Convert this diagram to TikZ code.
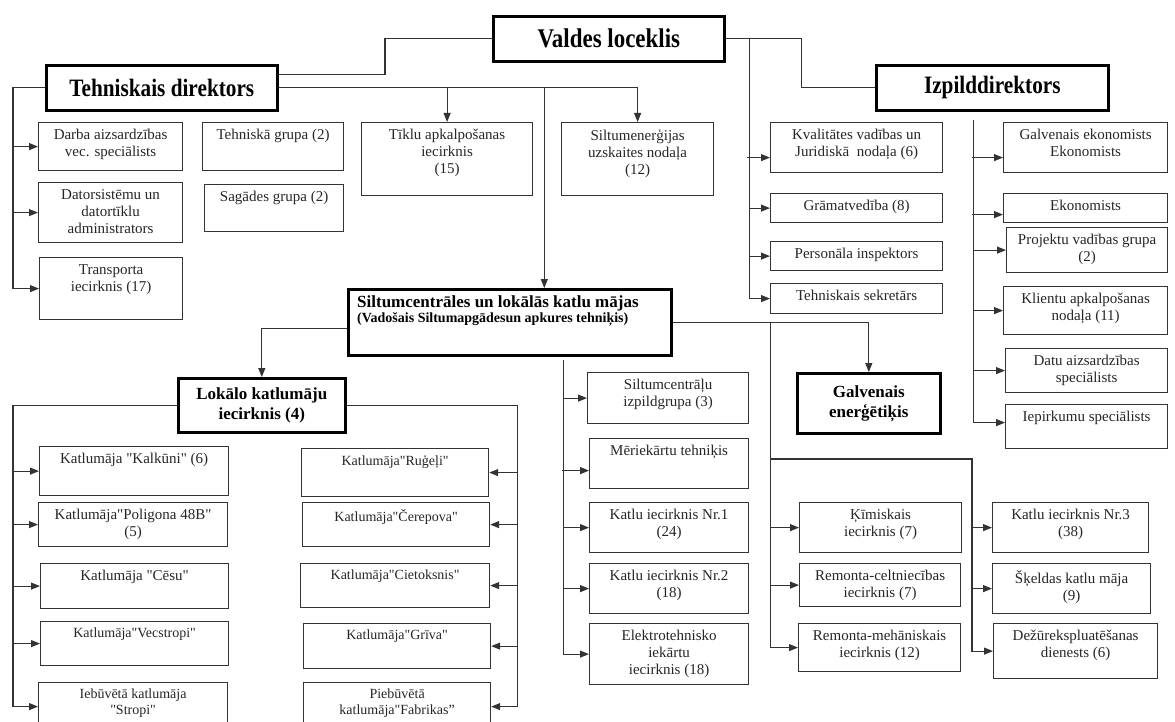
\documentclass[tikz,border=0pt]{standalone}
\usepackage{fontspec}
\setmainfont{Liberation Serif}
\newfontfamily\boxfont{Liberation Serif}
\newfontfamily\headfont[FakeStretch=0.85]{Liberation Serif}
\usetikzlibrary{arrows.meta}

\begin{document}
\begin{tikzpicture}[x=1pt,y=-1pt,
  >={Triangle[length=9pt,width=7pt]},
  box/.style={draw=black!80,line width=1.2pt,anchor=north west,inner sep=0pt},
  hbox/.style={draw=black,line width=2.6pt,anchor=north west,inner sep=0pt,align=center},
  lbl/.style={anchor=north,align=center,inner sep=7pt,text=black!85,font=\boxfont\fontsize{15}{17}\selectfont},
  slbl/.style={lbl,font=\boxfont\fontsize{14}{16}\selectfont},
  big/.style={font=\headfont\bfseries\fontsize{25}{29}\selectfont},
  mid/.style={font=\boxfont\bfseries\fontsize{17}{20}\selectfont}]
  \useasboundingbox (0,0) rectangle (1175,722);
  \fill[white] (0,0) rectangle (1175,722);

  % top level
  \node [hbox,big,font=\headfont\bfseries\fontsize{27}{31}\selectfont,
         minimum width=231pt,minimum height=45pt](valdes) at (492,15) {Valdes loceklis};
  \node [hbox,big,minimum width=231pt,minimum height=45pt](tehn) at (45,64) {Tehniskais direktors};
  \node [hbox,big,minimum width=232pt,minimum height=45pt](izpild) at (875,64) {Izpilddirektors};

  % under Tehniskais direktors
  \node [box,minimum width=144pt,minimum height=48pt,label={[lbl]north:{Darba aizsardzības\\vec. speciālists}}](darba) at (38,122) {};
  \node [box,minimum width=144pt,minimum height=60pt,label={[lbl]north:{Datorsistēmu un\\datortīklu\\administrators}}](dators) at (38,182) {};
  \node [box,minimum width=143pt,minimum height=62pt,label={[lbl]north:{Transporta\\iecirknis (17)}}](transp) at (39,257) {};
  \node [box,minimum width=141pt,minimum height=48pt,label={[lbl]north:{Tehniskā grupa (2)}}](tgrupa) at (202,122) {};
  \node [box,minimum width=139pt,minimum height=47pt,label={[lbl]north:{Sagādes grupa (2)}}](sagad) at (204,184) {};
  \node [box,minimum width=171pt,minimum height=73pt,label={[lbl]north:{Tīklu apkalpošanas\\iecirknis\\(15)}}](tikl) at (361,122) {};
  \node [box,minimum width=152pt,minimum height=73pt,label={[lbl]north:{Siltumenerģijas\\uzskaites nodaļa\\(12)}}](siltu) at (561,122) {};

  % under Valdes loceklis
  \node [box,minimum width=172pt,minimum height=50pt,label={[lbl]north:{Kvalitātes vadības un\\Juridiskā\ \ nodaļa (6)}}](kval) at (770,122) {};
  \node [box,minimum width=172pt,minimum height=29pt,label={[lbl]north:{Grāmatvedība (8)}}](gram) at (770,193) {};
  \node [box,minimum width=172pt,minimum height=29pt,label={[lbl]north:{Personāla inspektors}}](pers) at (770,241) {};
  \node [box,minimum width=172pt,minimum height=30pt,label={[lbl]north:{Tehniskais sekretārs}}](sekr) at (770,283) {};

  % under Izpilddirektors
  \node [box,minimum width=164pt,minimum height=50pt,label={[lbl]north:{Galvenais ekonomists\\Ekonomists}}](gek) at (1003,122) {};
  \node [box,minimum width=164pt,minimum height=29pt,label={[lbl]north:{Ekonomists}}](ekon) at (1003,193) {};
  \node [box,minimum width=161pt,minimum height=45pt,label={[lbl]north:{Projektu vadības grupa\\(2)}}](proj) at (1006,227) {};
  \node [box,minimum width=164pt,minimum height=48pt,label={[lbl]north:{Klientu apkalpošanas\\nodaļa (11)}}](klient) at (1003,286) {};
  \node [box,minimum width=162pt,minimum height=44pt,label={[lbl]north:{Datu aizsardzības\\speciālists}}](datu) at (1005,348) {};
  \node [box,minimum width=162pt,minimum height=44pt,label={[lbl]north:{Iepirkumu speciālists}}](iep) at (1005,404) {};

  % Siltumcentrales
  \node [hbox,minimum width=323pt,minimum height=66pt,
         label={[anchor=north west,align=left,inner xsep=10pt,inner ysep=8pt,font=\boxfont]north west:{%
           {\bfseries\fontsize{17}{19}\selectfont Siltumcentrāles un lokālās katlu mājas}\\
           {\bfseries\fontsize{14}{16}\selectfont (Vadošais Siltumapgādesun apkures tehniķis)}}}](siltc) at (347,288) {};
  \node [hbox,mid,minimum width=167pt,minimum height=54pt](lokalo) at (177,377) {Lokālo katlumāju\\iecirknis (4)};
  \node [hbox,mid,minimum width=143pt,minimum height=60pt](galven) at (796,372) {Galvenais\\enerģētiķis};

  % middle column
  \node [box,minimum width=161pt,minimum height=51pt,label={[lbl]north:{Siltumcentrāļu\\izpildgrupa (3)}}](izp) at (587,372) {};
  \node [box,minimum width=159pt,minimum height=50pt,label={[lbl]north:{Mēriekārtu tehniķis}}](mer) at (589,438) {};
  \node [box,minimum width=159pt,minimum height=50pt,label={[lbl]north:{Katlu iecirknis Nr.1\\(24)}}](k1) at (589,502) {};
  \node [box,minimum width=159pt,minimum height=50pt,label={[lbl]north:{Katlu iecirknis Nr.2\\(18)}}](k2) at (589,563) {};
  \node [box,minimum width=159pt,minimum height=61pt,label={[lbl]north:{Elektrotehnisko\\iekārtu\\iecirknis (18)}}](elek) at (589,623) {};

  \node [box,minimum width=162pt,minimum height=50pt,label={[lbl]north:{Ķīmiskais\\iecirknis (7)}}](kim) at (799,502) {};
  \node [box,minimum width=161pt,minimum height=43pt,label={[lbl]north:{Remonta-celtniecības\\iecirknis (7)}}](remc) at (799,563) {};
  \node [box,minimum width=162pt,minimum height=48pt,label={[lbl]north:{Remonta-mehāniskais\\iecirknis (12)}}](remm) at (798,623) {};
  \node [box,minimum width=156pt,minimum height=50pt,label={[lbl]north:{Katlu iecirknis Nr.3\\(38)}}](k3) at (992,502) {};
  \node [box,minimum width=158pt,minimum height=50pt,label={[lbl]north:{Šķeldas katlu māja\\(9)}}](skeld) at (992,563) {};
  \node [box,minimum width=164pt,minimum height=55pt,label={[lbl]north:{Dežūrekspluatēšanas\\dienests (6)}}](dez) at (993,623) {};

  % local boiler houses
  \node [box,minimum width=189pt,minimum height=49pt,label={[lbl]north:{Katlumāja "Kalkūni" (6)}}](kalk) at (39,446) {};
  \node [box,minimum width=189pt,minimum height=44pt,label={[lbl]north:{Katlumāja"Poligona 48B"\\(5)}}](polig) at (38,502) {};
  \node [box,minimum width=188pt,minimum height=45pt,label={[lbl]north:{Katlumāja "Cēsu"}}](cesu) at (40,563) {};
  \node [box,minimum width=188pt,minimum height=44pt,label={[slbl]north:{Katlumāja"Vecstropi"}}](vecs) at (40,621) {};
  \node [box,minimum width=189pt,minimum height=48pt,label={[slbl]north:{Iebūvētā katlumāja\\"Stropi"}}](iebuv) at (38,682) {};
  \node [box,minimum width=187pt,minimum height=48pt,label={[slbl]north:{Katlumāja"Ruģeļi"}}](rug) at (301,448) {};
  \node [box,minimum width=187pt,minimum height=44pt,label={[slbl]north:{Katlumāja"Čerepova"}}](cere) at (302,502) {};
  \node [box,minimum width=189pt,minimum height=44pt,label={[slbl]north:{Katlumāja"Cietoksnis"}}](ciet) at (300,563) {};
  \node [box,minimum width=187pt,minimum height=45pt,label={[slbl]north:{Katlumāja"Grīva"}}](griva) at (303,623) {};
  \node [box,minimum width=187pt,minimum height=48pt,label={[slbl]north:{Piebūvētā\\katlumāja"Fabrikas”}}](pieb) at (303,682) {};

  % branch points
  \coordinate (tl) at ([xshift=-32pt]tehn.west);
  \coordinate (sd) at ([xshift=34.5pt]siltc.north);
  \coordinate (vr) at ([xshift=24pt]valdes.east);
  \coordinate (ir) at ([xshift=-19pt,yshift=-8pt]izpild.south);
  \coordinate (kr) at ([xshift=98pt]siltc.east);
  \coordinate (kb) at (972,459);
  \coordinate (mr) at ([xshift=53.5pt,yshift=-3pt]siltc.south);
  \coordinate (ll) at ([xshift=-164pt]lokalo.west);
  \coordinate (lr) at ([xshift=171pt]lokalo.east);

  \begin{scope}[line width=1.1pt,black!80]
  \draw (valdes.west) -- ++(-107,0) |- ([yshift=13.5pt]tehn.east);
  \draw (valdes.east) -- ++(76,0) |- (izpild.west);

  \draw[->] (tehn.west) -- (tl) |- (transp.west);
  \draw[->] (tl |- darba.west) -- (darba.west);
  \draw[->] (tl |- dators.west) -- (dators.west);
  \draw[->] (tehn.east) -| (siltu.north);
  \draw[->] (tikl.north |- tehn.east) -- (tikl.north);
  \draw[->] (sd |- tehn.east) -- (sd);

  \draw[->] (vr) |- (sekr.west);
  \draw[<-] ([yshift=-10pt]kval.west) -- ++(-23,0);
  \draw[->] (vr |- gram.west) -- (gram.west);
  \draw[->] (vr |- pers.west) -- (pers.west);

  \draw[->] (ir) |- ([yshift=4pt]iep.west);
  \draw[<-] ([yshift=-10pt]gek.west) -- ++(-31,0);
  \draw[<-] ([yshift=-6.5pt]ekon.west) -- ++(-31,0);
  \draw[->] (ir |- proj.west) -- (proj.west);
  \draw[->] (ir |- klient.west) -- (klient.west);
  \draw[->] (ir |- datu.west) -- (datu.west);

  \draw[->] ([yshift=-6pt]siltc.west) -| (lokalo.north);
  \draw[->] (siltc.east) -| (galven.north);

  \draw[->] (mr) |- (elek.west);
  \draw[->] (mr |- izp.west) -- (izp.west);
  \draw[<-] ([yshift=-7pt]mer.west) -- ++(-27,0);
  \draw[->] (mr |- k1.west) -- (k1.west);
  \draw[->] (mr |- k2.west) -- (k2.west);

  \draw[->] (kr) |- (remm.west);
  \draw[->] (kr |- kim.west) -- (kim.west);
  \draw[->] (kr |- remc.west) -- (remc.west);
  \draw[->] (kr |- kb) -- (kb) |- (dez.west);
  \draw[->] (kb |- k3.west) -- (k3.west);
  \draw[->] (kb |- skeld.west) -- (skeld.west);

  \draw[->] (lokalo.west) -- (ll) |- (iebuv.west);
  \draw[->] (ll |- kalk.west) -- (kalk.west);
  \draw[->] (ll |- polig.west) -- (polig.west);
  \draw[->] (ll |- cesu.west) -- (cesu.west);
  \draw[->] (ll |- vecs.west) -- (vecs.west);
  \draw[->] (lokalo.east) -- (lr) |- (pieb.east);
  \draw[->] (lr |- rug.east) -- (rug.east);
  \draw[->] (lr |- cere.east) -- (cere.east);
  \draw[->] (lr |- ciet.east) -- (ciet.east);
  \draw[->] (lr |- griva.east) -- (griva.east);
  \end{scope}
\end{tikzpicture}
\end{document}
